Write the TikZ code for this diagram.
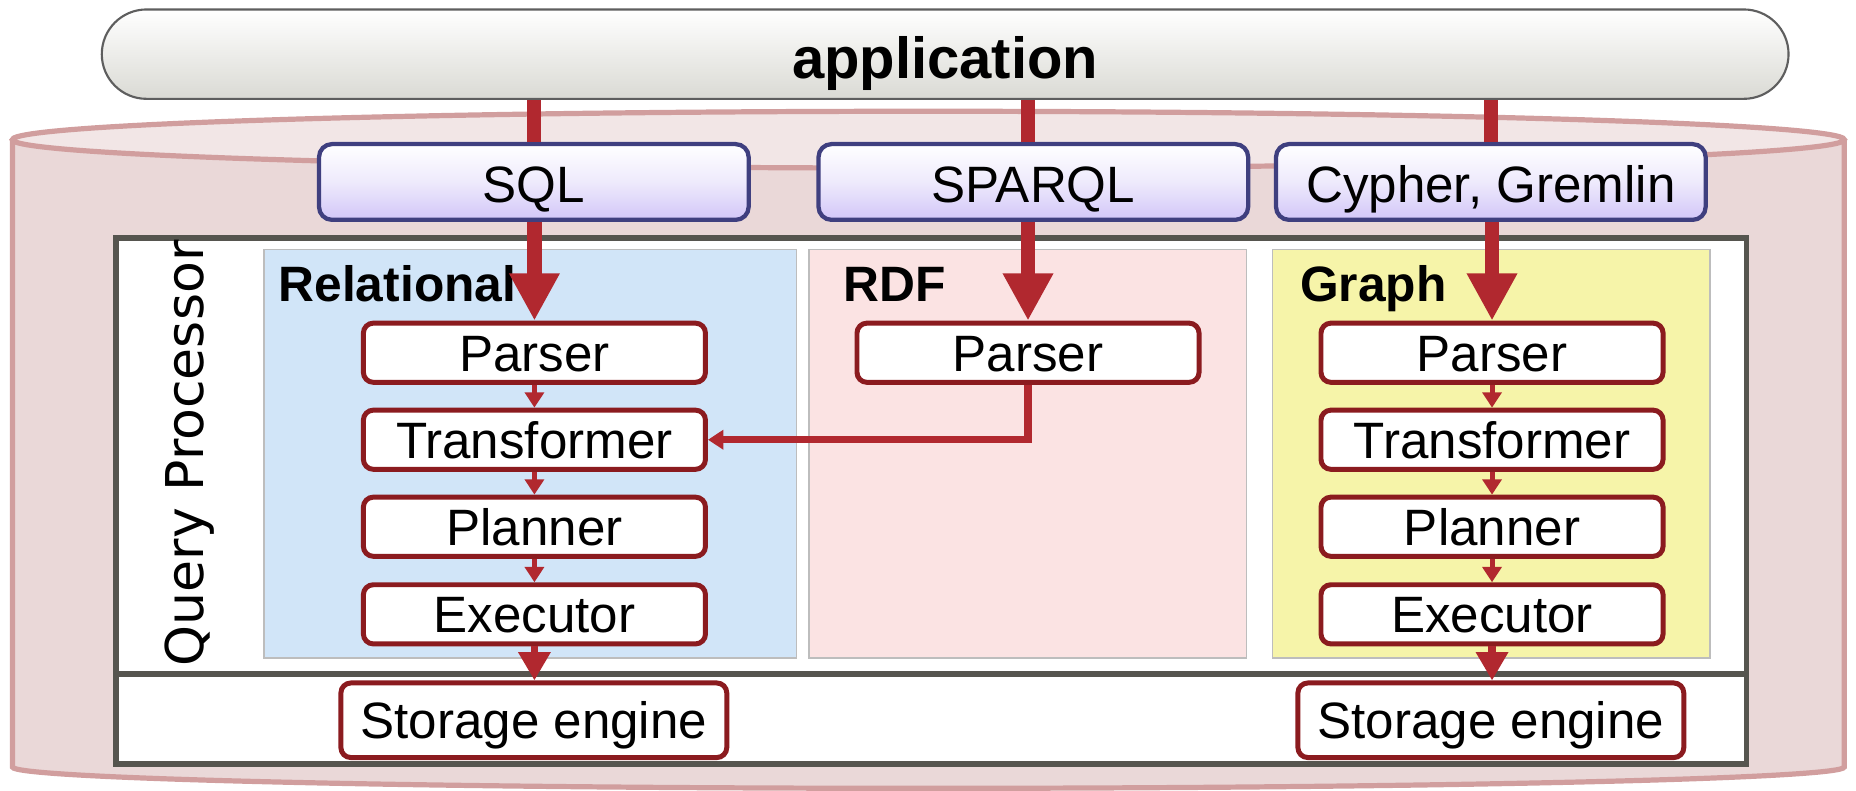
\documentclass[tikz,border=0pt]{standalone}
\usepackage{fontspec}
\setmainfont{Liberation Sans}
\newfontfamily\qpfont{DejaVu Sans}
\usetikzlibrary{arrows.meta,shapes.misc,calc}

\definecolor{cylFill}{HTML}{EAD8D8}
\definecolor{cylTop}{HTML}{F2E6E6}
\definecolor{cylLine}{HTML}{D19E9E}
\definecolor{flowRed}{HTML}{B1282F}
\definecolor{stageRed}{HTML}{8B1B1F}
\definecolor{langLine}{HTML}{3F3F7F}
\definecolor{langFill}{HTML}{D2C6F8}
\definecolor{langMid}{HTML}{EEEAFC}
\definecolor{frameGray}{HTML}{56554F}
\definecolor{panelLine}{HTML}{BDBDBD}
\definecolor{relFill}{HTML}{D1E5F8}
\definecolor{rdfFill}{HTML}{FBE3E3}
\definecolor{graphFill}{HTML}{F6F4A9}
\definecolor{appLine}{HTML}{5E5E5E}
\definecolor{appFill}{HTML}{DADAD4}

\begin{document}
\begin{tikzpicture}[x=0.5pt,y=-0.5pt,
  boxtext/.style={font=\fontsize{21.6}{25}\selectfont, text height=20.2pt, text depth=4.7pt},
  langbox/.style={draw=langLine, line width=1.8pt, rounded corners=5.5pt,
    top color=white, bottom color=langFill, middle color=langMid,
    minimum width=181.5pt, minimum height=32pt, inner sep=0pt, boxtext,
    text height=22pt},
  stagebox/.style={draw=stageRed, line width=2.1pt, rounded corners=4.2pt, fill=white,
    minimum width=144.5pt, minimum height=25pt, inner sep=0pt, boxtext},
  storebox/.style={stagebox, minimum width=163pt, minimum height=31.5pt},
  panel/.style={draw=panelLine, line width=0.6pt, inner sep=0pt, minimum height=172.5pt},
  paneltitle/.style={font=\bfseries\fontsize{21}{24}\selectfont, anchor=base west, inner sep=0pt},
  feed/.style={draw=flowRed, line width=6pt},
  bigflow/.style={draw=flowRed, line width=6pt, -{Triangle[width=20pt,length=20pt]}},
  stepflow/.style={draw=flowRed, line width=2.1pt, -{Triangle[width=8pt,length=6.5pt]}},
  storeflow/.style={draw=flowRed, line width=3pt, -{Triangle[width=13pt,length=12pt]}},
  sideflow/.style={draw=flowRed, line width=3pt, -{Triangle[width=8pt,length=6.5pt]}}
]
\useasboundingbox (0,0) rectangle (1568,668);

% database cylinder
\fill[cylFill] (10.5,118) -- (10.5,648)
  arc[start angle=180, end angle=360, x radius=386.9pt, y radius=9pt]
  -- (1558,118) -- cycle;
\draw[cylLine, line width=2.2pt] (10.5,118) -- (10.5,648)
  arc[start angle=180, end angle=360, x radius=386.9pt, y radius=9pt]
  -- (1558,118);
\draw[cylLine, line width=2.2pt, fill=cylTop] (784.3,118) ellipse [x radius=386.9pt, y radius=12pt];

% application bar
\node[rounded rectangle, draw=appLine, line width=0.9pt, top color=white, bottom color=appFill,
  minimum width=712.5pt, minimum height=37.75pt, inner sep=0pt,
  font=\bfseries\fontsize{24.5}{28}\selectfont, text height=25.3pt, text depth=5pt]
  (app) at (798.5,45.75) {application};

% query processor frame
\node[draw=frameGray, line width=2.4pt, fill=white, minimum width=688.8pt, minimum height=222.3pt, inner sep=0pt]
  (qp) at (786.8,423.3) {};
\draw[frameGray, line width=2.4pt] (qp.west |- 0,569.5) -- (qp.east |- 0,569.5);
\node[rotate=90, anchor=base, inner sep=0pt, font=\qpfont\fontsize{22}{26}\selectfont]
  (qplabel) at (172,383) {Query Processor};

% model panels
\node[panel, fill=relFill, minimum width=225pt] (relp) at (448,383.5) {};
\node[panel, fill=rdfFill, minimum width=184.75pt] (rdfp) at (868.25,383.5) {};
\node[panel, fill=graphFill, minimum width=184.8pt] (grp) at (1259.8,383.5) {};
\node[paneltitle] (reltitle) at (235,255) {Relational};
\node[paneltitle] (rdftitle) at (712,255) {RDF};
\node[paneltitle] (grtitle) at (1098,255) {Graph};

% query languages
\node[langbox] (sql) at (451,153.75) {SQL};
\node[langbox] (sparql) at (873,153.75) {SPARQL};
\node[langbox] (cypher) at (1259.5,153.75) {Cypher, Gremlin};

% relational pipeline
\node[stagebox] (rparse) at (451.5,298) {Parser};
\node[stagebox] (rtrans) at (451.5,371.5) {Transformer};
\node[stagebox] (rplan) at (451.5,445) {Planner};
\node[stagebox] (rexec) at (451.5,519) {Executor};

% RDF pipeline
\node[stagebox] (dparse) at (868.5,298) {Parser};

% graph pipeline
\node[stagebox] (gparse) at (1260.5,298) {Parser};
\node[stagebox] (gtrans) at (1260.5,371.5) {Transformer};
\node[stagebox] (gplan) at (1260.5,445) {Planner};
\node[stagebox] (gexec) at (1260.5,519) {Executor};

% storage engines
\node[storebox] (rstore) at (451,608.5) {Storage engine};
\node[storebox] (gstore) at (1259.5,608.5) {Storage engine};

% application to languages
\draw[feed] (sql.north |- app.south) -- (sql.north);
\draw[feed] (dparse.north |- app.south) -- (dparse.north |- sparql.north);
\draw[feed] (cypher.north |- app.south) -- (cypher.north);

% languages to parsers
\draw[bigflow] (rparse.north |- sql.south) -- (rparse.north);
\draw[bigflow] (dparse.north |- sparql.south) -- (dparse.north);
\draw[bigflow] (gparse.north |- cypher.south) -- (gparse.north);

% stage chains
\draw[stepflow] (rparse) -- (rtrans);
\draw[stepflow] (rtrans) -- (rplan);
\draw[stepflow] (rplan) -- (rexec);
\draw[stepflow] (gparse) -- (gtrans);
\draw[stepflow] (gtrans) -- (gplan);
\draw[stepflow] (gplan) -- (gexec);
\draw[storeflow] (rexec.south) -- (rstore.north -| rexec.south);
\draw[storeflow] (gexec.south) -- (gstore.north -| gexec.south);
\draw[sideflow] (dparse.south) |- (rtrans.east);
\end{tikzpicture}
\end{document}
